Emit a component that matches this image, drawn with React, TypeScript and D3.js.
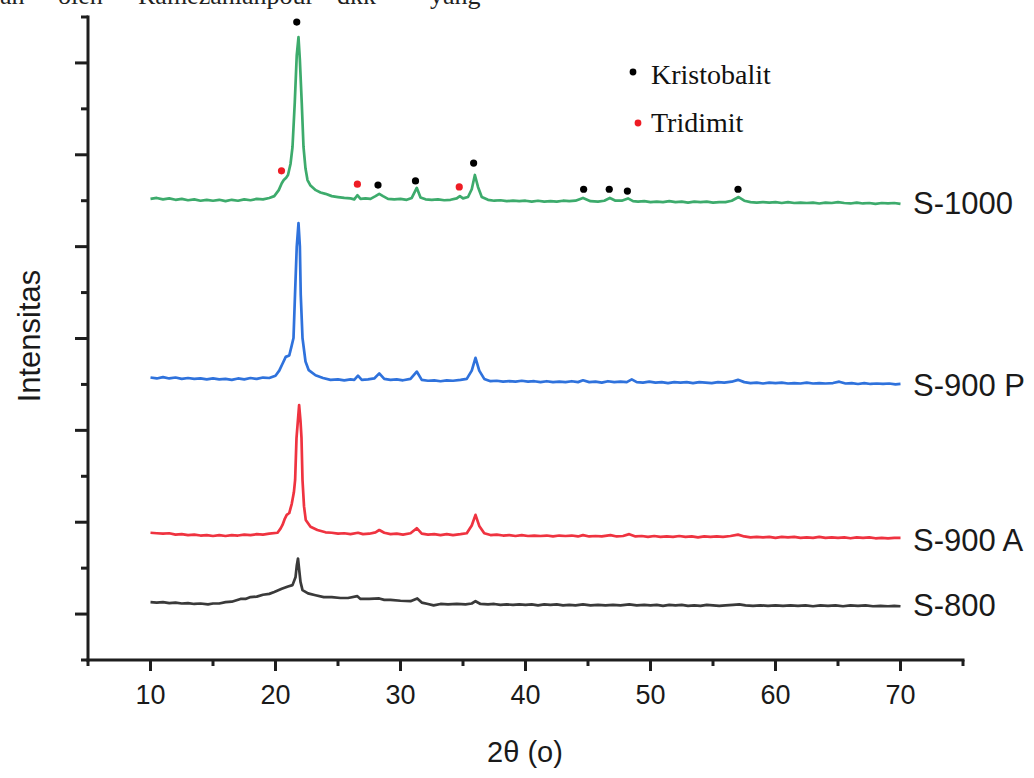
import React from 'react';
import * as d3 from 'd3';

// XRD patterns, 2θ vs stacked intensity (arbitrary units, offset per sample)
const s1000: [number, number][] = [
  [10, 10.04], [10.5, 10.06], [11, 10.03], [11.5, 10.05], [12, 10.02], [12.5, 10.04], [13, 10.01], [13.5, 10.03],
  [14, 10.0], [14.5, 10.02], [15, 10.0], [15.5, 10.02], [16, 9.99], [16.5, 10.02], [17, 10.0], [17.5, 10.03],
  [18, 10.01], [18.5, 10.04], [19, 10.03], [19.5, 10.06], [19.9, 10.1], [20.26, 10.23], [20.5, 10.38], [20.66, 10.45],
  [20.85, 10.5], [21.0, 10.56], [21.2, 10.8], [21.36, 11.17], [21.54, 12.13], [21.7, 13.17], [21.84, 13.56],
  [21.95, 13.06], [22.1, 12.13], [22.24, 11.17], [22.4, 10.7], [22.56, 10.45], [22.8, 10.33], [23.22, 10.23],
  [23.6, 10.18], [24, 10.15], [24.5, 10.1], [25, 10.08], [25.5, 10.06], [26, 10.05], [26.3, 10.03], [26.55, 10.12],
  [26.8, 10.04], [27.2, 10.05], [27.6, 10.04], [28.0, 10.1], [28.3, 10.15], [28.6, 10.1], [29, 10.04], [29.5, 10.03],
  [30, 10.04], [30.5, 10.02], [30.9, 10.06], [31.3, 10.28], [31.6, 10.07], [32, 10.03], [32.5, 10.02], [33, 10.03],
  [33.5, 10.01], [34, 10.02], [34.5, 10.05], [34.75, 10.1], [35.0, 10.05], [35.4, 10.08], [35.7, 10.25],
  [35.95, 10.56], [36.2, 10.3], [36.5, 10.08], [37, 10.02], [37.5, 10.0], [38, 10.01], [38.5, 9.99], [39, 10.0],
  [39.5, 9.99], [40, 10.0], [40.5, 9.98], [41, 10.0], [41.5, 9.98], [42, 9.99], [42.5, 9.98], [43, 10.0], [43.5, 9.99],
  [44, 10.0], [44.6, 10.06], [45.2, 9.99], [45.8, 9.98], [46.3, 10.0], [46.75, 10.06], [47.2, 10.0], [47.7, 10.0],
  [48.2, 10.05], [48.6, 9.99], [49, 9.98], [49.5, 9.99], [50, 9.97], [50.5, 9.98], [51, 9.97], [51.5, 9.99],
  [52, 9.97], [52.5, 9.98], [53, 9.96], [53.5, 9.98], [54, 9.97], [54.5, 9.98], [55, 9.96], [55.5, 9.97], [56, 9.97],
  [56.5, 10.0], [57.05, 10.08], [57.5, 10.0], [58, 9.97], [58.5, 9.96], [59, 9.97], [59.5, 9.96], [60, 9.97],
  [60.5, 9.95], [61, 9.97], [61.5, 9.95], [62, 9.96], [62.5, 9.95], [63, 9.96], [63.5, 9.94], [64, 9.96], [64.5, 9.95],
  [65, 9.97], [65.5, 9.95], [66, 9.94], [66.5, 9.96], [67, 9.94], [67.5, 9.95], [68, 9.93], [68.5, 9.95], [69, 9.94],
  [69.5, 9.95], [70, 9.93],
];

const s900p: [number, number][] = [
  [10, 6.15], [10.5, 6.13], [11, 6.16], [11.5, 6.13], [12, 6.15], [12.5, 6.12], [13, 6.14], [13.5, 6.12], [14, 6.13],
  [14.5, 6.11], [15, 6.13], [15.5, 6.11], [16, 6.12], [16.5, 6.1], [17, 6.13], [17.5, 6.11], [18, 6.14], [18.5, 6.12],
  [19, 6.15], [19.5, 6.14], [20, 6.19], [20.3, 6.3], [20.56, 6.45], [20.82, 6.6], [21.1, 6.63], [21.3, 6.85],
  [21.44, 7.01], [21.56, 7.95], [21.7, 9.0], [21.84, 9.51], [21.95, 9.0], [22.02, 7.95], [22.16, 7.01], [22.4, 6.5],
  [22.66, 6.31], [23.2, 6.2], [23.8, 6.14], [24.4, 6.1], [25, 6.11], [25.5, 6.09], [26, 6.11], [26.3, 6.1],
  [26.6, 6.19], [26.9, 6.1], [27.4, 6.11], [27.9, 6.13], [28.3, 6.24], [28.7, 6.12], [29.2, 6.1], [29.7, 6.11],
  [30.2, 6.09], [30.8, 6.12], [31.3, 6.28], [31.7, 6.1], [32.2, 6.08], [32.7, 6.09], [33.2, 6.07], [33.7, 6.09],
  [34.2, 6.08], [34.8, 6.1], [35.3, 6.12], [35.7, 6.3], [36.0, 6.58], [36.3, 6.3], [36.7, 6.12], [37.2, 6.07],
  [37.7, 6.08], [38.2, 6.06], [38.7, 6.07], [39.2, 6.06], [39.7, 6.08], [40.2, 6.06], [40.7, 6.07], [41.2, 6.05],
  [41.7, 6.07], [42.2, 6.05], [42.7, 6.06], [43.2, 6.05], [43.7, 6.07], [44.2, 6.05], [44.6, 6.09], [45.1, 6.05],
  [45.6, 6.06], [46.1, 6.04], [46.6, 6.07], [47.1, 6.05], [47.6, 6.06], [48.1, 6.05], [48.5, 6.11], [48.9, 6.05],
  [49.4, 6.04], [49.9, 6.06], [50.4, 6.04], [50.9, 6.05], [51.4, 6.03], [51.9, 6.05], [52.4, 6.04], [52.9, 6.05],
  [53.4, 6.03], [53.9, 6.05], [54.4, 6.04], [54.9, 6.03], [55.4, 6.05], [55.9, 6.04], [56.5, 6.06], [57.0, 6.1],
  [57.5, 6.05], [58, 6.03], [58.5, 6.04], [59, 6.02], [59.5, 6.04], [60, 6.03], [60.5, 6.04], [61, 6.02],
  [61.5, 6.03], [62, 6.02], [62.5, 6.04], [63, 6.02], [63.5, 6.03], [64, 6.02], [64.6, 6.03], [65.1, 6.06],
  [65.6, 6.02], [66.1, 6.03], [66.6, 6.01], [67.1, 6.03], [67.6, 6.01], [68.1, 6.02], [68.6, 6.01], [69.1, 6.02],
  [69.6, 6.0], [70, 6.01],
];

const s900a: [number, number][] = [
  [10, 2.77], [10.5, 2.76], [11, 2.75], [11.5, 2.76], [12, 2.73], [12.5, 2.74], [13, 2.72], [13.5, 2.73], [14, 2.71],
  [14.5, 2.72], [15, 2.7], [15.5, 2.72], [16, 2.7], [16.5, 2.72], [17, 2.71], [17.5, 2.73], [18, 2.72], [18.5, 2.74],
  [19, 2.73], [19.5, 2.75], [20.16, 2.77], [20.4, 2.86], [20.56, 2.94], [20.75, 3.08], [20.9, 3.16], [21.1, 3.2],
  [21.3, 3.4], [21.47, 3.65], [21.57, 3.92], [21.68, 4.83], [21.89, 5.55], [22.0, 5.2], [22.08, 4.83], [22.16, 3.92],
  [22.28, 3.35], [22.42, 3.05], [22.8, 2.9], [23.35, 2.83], [24, 2.78], [24.5, 2.77], [25, 2.75], [25.5, 2.76],
  [26, 2.74], [26.6, 2.77], [27, 2.74], [27.5, 2.75], [28.0, 2.78], [28.3, 2.83], [28.7, 2.77], [29.2, 2.74],
  [29.7, 2.75], [30.2, 2.73], [30.8, 2.76], [31.3, 2.87], [31.7, 2.75], [32.2, 2.73], [32.7, 2.74], [33.2, 2.72],
  [33.7, 2.74], [34.2, 2.72], [34.8, 2.74], [35.3, 2.76], [35.7, 2.93], [36.0, 3.16], [36.3, 2.92], [36.7, 2.76],
  [37.2, 2.72], [37.7, 2.73], [38.2, 2.71], [38.7, 2.72], [39.2, 2.7], [39.7, 2.72], [40.2, 2.7], [40.7, 2.71],
  [41.2, 2.7], [41.7, 2.71], [42.2, 2.69], [42.7, 2.71], [43.2, 2.7], [43.7, 2.71], [44.2, 2.69], [44.6, 2.72],
  [45.1, 2.69], [45.6, 2.7], [46.1, 2.69], [46.8, 2.72], [47.3, 2.69], [47.8, 2.7], [48.3, 2.74], [48.8, 2.69],
  [49.3, 2.7], [49.8, 2.68], [50.3, 2.7], [50.8, 2.68], [51.3, 2.69], [51.8, 2.68], [52.3, 2.7], [52.8, 2.68],
  [53.3, 2.69], [53.8, 2.67], [54.3, 2.69], [54.8, 2.68], [55.3, 2.69], [55.8, 2.68], [56.4, 2.7], [57.0, 2.73],
  [57.5, 2.69], [58, 2.67], [58.5, 2.68], [59, 2.67], [59.5, 2.68], [60, 2.66], [60.5, 2.68], [61, 2.67],
  [61.5, 2.68], [62, 2.66], [62.5, 2.67], [63, 2.66], [63.5, 2.68], [64, 2.66], [64.5, 2.67], [65, 2.66],
  [65.5, 2.67], [66, 2.65], [66.5, 2.67], [67, 2.66], [67.5, 2.67], [68, 2.65], [68.5, 2.66], [69, 2.65],
  [69.5, 2.66], [70, 2.66],
];

const s800: [number, number][] = [
  [10, 1.26], [10.5, 1.25], [11, 1.26], [11.5, 1.24], [12, 1.25], [12.5, 1.23], [13, 1.24], [13.5, 1.22],
  [14, 1.23], [14.6, 1.21], [15, 1.23], [15.5, 1.23], [16, 1.26], [16.5, 1.27], [17.2, 1.33], [17.6, 1.33],
  [18, 1.37], [18.5, 1.38], [19, 1.42], [19.5, 1.44], [19.9, 1.48], [20.5, 1.55], [21, 1.6], [21.36, 1.63],
  [21.6, 1.8], [21.7, 2.05], [21.8, 2.21], [21.9, 1.95], [22.0, 1.7], [22.16, 1.52], [22.6, 1.45], [23.2, 1.41],
  [23.86, 1.37], [24.5, 1.37], [25.2, 1.35], [25.8, 1.35], [26.55, 1.39], [26.8, 1.33], [27.5, 1.33], [28.3, 1.34],
  [28.7, 1.31], [29.2, 1.31], [30, 1.29], [30.8, 1.28], [31.34, 1.34], [31.7, 1.25], [32.2, 1.22], [32.65, 1.19],
  [33.2, 1.22], [33.8, 1.21], [34.5, 1.22], [35.2, 1.21], [35.7, 1.23], [36.0, 1.28], [36.4, 1.22], [37, 1.21],
  [37.5, 1.22], [38, 1.2], [38.5, 1.21], [39, 1.2], [39.5, 1.21], [40, 1.2], [40.5, 1.21], [41, 1.19], [41.5, 1.21],
  [42, 1.2], [42.5, 1.21], [43, 1.19], [43.5, 1.2], [44, 1.19], [44.6, 1.21], [45.2, 1.19], [45.8, 1.2], [46.4, 1.19],
  [47, 1.2], [47.6, 1.19], [48.3, 1.21], [48.9, 1.19], [49.5, 1.2], [50, 1.19], [50.5, 1.2], [51, 1.18], [51.5, 1.2],
  [52, 1.19], [52.5, 1.2], [53, 1.18], [53.5, 1.19], [54, 1.18], [54.5, 1.2], [55, 1.19], [55.5, 1.18], [56, 1.19],
  [56.6, 1.2], [57.1, 1.21], [57.6, 1.19], [58.2, 1.18], [58.8, 1.19], [59.4, 1.18], [60, 1.19], [60.6, 1.18],
  [61.2, 1.19], [61.8, 1.18], [62.4, 1.19], [63, 1.17], [63.6, 1.19], [64.2, 1.18], [64.8, 1.19], [65.4, 1.17],
  [66, 1.19], [66.6, 1.18], [67.2, 1.19], [67.8, 1.17], [68.4, 1.18], [69, 1.17], [69.5, 1.18], [70, 1.17],
];

const seriesNames = ['S-1000', 'S-900 P', 'S-900 A', 'S-800'];
const seriesData = [s1000, s900p, s900a, s800];
const seriesColors = ['#3dab6c', '#2f72dc', '#ef3340', '#3a3a3a'];
const labelLevels = [9.92, 5.97, 2.6, 1.18];

// phase markers above the S-1000 pattern
const kristobalitPeaks: [number, number][] = [
  [21.7, 13.89], [28.2, 10.34], [31.2, 10.43], [35.85, 10.82], [44.65, 10.25], [46.7, 10.25], [48.15, 10.21], [57.0, 10.25],
];
const tridimitPeaks: [number, number][] = [
  [20.48, 10.65], [26.55, 10.36], [34.7, 10.3],
];

const xMajorTicks = [10, 20, 30, 40, 50, 60, 70];
const xMinorTicks = [5, 15, 25, 35, 45, 55, 65, 75];
const yMajorTicks = [1, 3, 5, 7, 9, 11, 13];
const yMinorTicks = [0, 2, 4, 6, 8, 10, 12, 14];

const headerWords = [
  { t: 'an', x: 0 },
  { t: 'oleh', x: 58 },
  { t: 'Ramezanianpour', x: 138 },
  { t: 'dkk', x: 337 },
  { t: 'yang', x: 430 },
];

const sans = "Arial, 'Liberation Sans', sans-serif";
const serif = "'Times New Roman', 'Liberation Serif', serif";

export default function App() {
  const x = d3.scaleLinear().domain([5, 75]).range([88, 963]);
  const y = d3.scaleLinear().domain([0, 14]).range([660, 17]);
  const line = d3
    .line<[number, number]>()
    .x((d) => x(d[0]))
    .y((d) => y(d[1]));

  const axisColor = '#1e1e1e';

  return (
    <svg
      width={1034}
      height={778}
      style={{ position: 'absolute', left: 0, top: 0, background: '#fff' }}
    >
      <rect width={1034} height={778} fill="#fff" />

      {/* cut-off line of document text */}
      <g fontFamily={serif} fontSize={26} fill="#222">
        {headerWords.map((w) => (
          <text key={w.t} x={w.x} y={4}>
            {w.t}
          </text>
        ))}
      </g>

      {/* patterns */}
      {seriesData.map((s, i) => (
        <path
          key={seriesNames[i]}
          d={line(s) || ''}
          fill="none"
          stroke={seriesColors[i]}
          strokeWidth={2.7}
          strokeLinejoin="round"
        />
      ))}

      {/* markers */}
      {kristobalitPeaks.map((p, i) => (
        <circle key={'k' + i} cx={x(p[0])} cy={y(p[1])} r={3.6} fill="#000" />
      ))}
      {tridimitPeaks.map((p, i) => (
        <circle key={'t' + i} cx={x(p[0])} cy={y(p[1])} r={3.6} fill="#ee1c24" />
      ))}

      {/* legend */}
      <g fontFamily={serif} fontSize={28} fill="#111">
        <circle cx={633} cy={72} r={3.4} fill="#000" />
        <text x={651} y={84}>Kristobalit</text>
        <circle cx={638} cy={123} r={3.4} fill="#ee1c24" />
        <text x={651} y={132}>Tridimit</text>
      </g>

      {/* series labels */}
      <g fontFamily={sans} fontSize={31} fill="#1a1a1a">
        {seriesNames.map((n, i) => (
          <text key={n} x={913} y={y(labelLevels[i]) + 10}>
            {n}
          </text>
        ))}
      </g>

      {/* axes */}
      <g stroke={axisColor} strokeWidth={3} fill="none">
        <line x1={x(5)} x2={x(75)} y1={y(0)} y2={y(0)} strokeLinecap="square" />
        <line x1={x(5)} x2={x(5)} y1={y(0)} y2={y(14)} strokeLinecap="square" />
        {xMajorTicks.map((t) => (
          <line key={'xM' + t} x1={x(t)} x2={x(t)} y1={y(0)} y2={y(0) + 11} />
        ))}
        {xMinorTicks.map((t) => (
          <line key={'xm' + t} x1={x(t)} x2={x(t)} y1={y(0)} y2={y(0) + 6} />
        ))}
        {yMajorTicks.map((t) => (
          <line key={'yM' + t} x1={x(5) - 13} x2={x(5)} y1={y(t)} y2={y(t)} />
        ))}
        {yMinorTicks.map((t) => (
          <line key={'ym' + t} x1={x(5) - 7} x2={x(5)} y1={y(t)} y2={y(t)} />
        ))}
      </g>

      <g fontFamily={sans} fontSize={27} fill="#1a1a1a" textAnchor="middle">
        {xMajorTicks.map((t) => (
          <text key={'xl' + t} x={x(t)} y={704}>
            {t}
          </text>
        ))}
      </g>

      <text
        x={525}
        y={762}
        fontFamily={sans}
        fontSize={29}
        fill="#1a1a1a"
        textAnchor="middle"
      >
        2θ (o)
      </text>
      <text
        transform="translate(40,336) rotate(-90)"
        fontFamily={sans}
        fontSize={31}
        fill="#1a1a1a"
        textAnchor="middle"
      >
        Intensitas
      </text>
    </svg>
  );
}
